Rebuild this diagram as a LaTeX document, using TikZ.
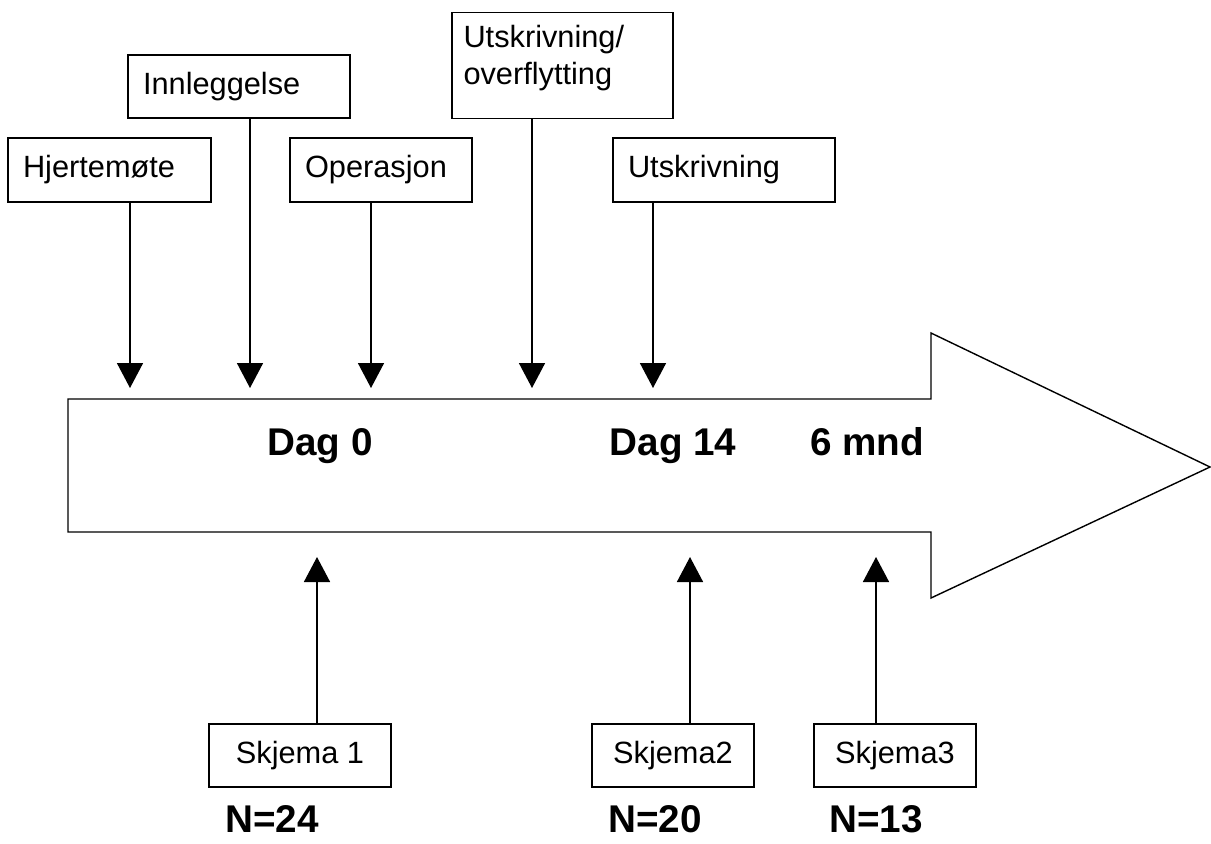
\documentclass[tikz,border=0pt]{standalone}
\usepackage{fontspec}
\setmainfont{Liberation Sans}
\usepackage{tikz}
\usetikzlibrary{arrows.meta,positioning}
\tikzset{
  evbox/.style={draw,line width=.8pt,align=left,inner xsep=.3cm,font=\fontsize{17.5}{21}\selectfont},
  formbox/.style={draw,line width=.8pt,align=center,minimum height=1.26cm,font=\fontsize{17.5}{21}\selectfont},
  evarrow/.style={-{Triangle[length=5mm,width=5.2mm]},line width=.9pt},
  timelabel/.style={anchor=base,inner sep=0pt,font=\fontsize{22}{26}\selectfont\bfseries},
  bigarrow/.style={draw,line width=.8pt}
}
\begin{document}
\begin{tikzpicture}[x=0.02cm,y=-0.02cm]
      \useasboundingbox (0,0) rectangle (1211,843);
      % time line
      \draw[bigarrow] (68,399) -- (931,399) -- (931,333) -- (1210,467)
        -- (931,598) -- (931,532) -- (68,532) -- cycle;
      \node[timelabel] (dag0) at (320,455) {Dag 0};
      \node[timelabel] (dag14) at (673,455) {Dag 14};
      \node[timelabel] (mnd6) at (867,455) {6 mnd};

      % events above
      \node[evbox,minimum width=4.06cm,minimum height=1.28cm,text width=3.46cm] (hjerte) at (109.5,170) {Hjertemøte};
      \node[evbox,minimum width=4.44cm,minimum height=1.26cm,text width=3.84cm] (innl) at (239,86.5) {Innleggelse};
      \node[evbox,minimum width=3.64cm,minimum height=1.28cm,text width=3.04cm] (oper) at (381,170) {Operasjon};
      \node[evbox,minimum width=4.42cm,text width=3.96cm,inner xsep=.23cm,inner ysep=.26cm,text height=.45cm,text depth=1.16cm] (utovr) at (562.5,65.5) {Utskrivning/\\overflytting};
      \node[evbox,minimum width=4.44cm,minimum height=1.28cm,text width=3.84cm] (utskr) at (724,170) {Utskrivning};

      \coordinate (d1) at (130,388);
      \coordinate (d2) at (250,388);
      \coordinate (d3) at (371,388);
      \coordinate (d4) at (532,388);
      \coordinate (d5) at (653,388);
      \foreach \b/\t in {hjerte/d1,innl/d2,oper/d3,utovr/d4,utskr/d5}
        \draw[evarrow] (\b.south -| \t) -- (\t);

      % forms below
      \node[formbox,minimum width=3.64cm] (skj1) at (300,755.5) {Skjema 1};
      \node[formbox,minimum width=3.24cm] (skj2) at (673,755.5) {Skjema2};
      \node[formbox,minimum width=3.24cm] (skj3) at (895,755.5) {Skjema3};

      \coordinate (u1) at (317,557);
      \coordinate (u2) at (690,557);
      \coordinate (u3) at (876,557);
      \foreach \b/\t in {skj1/u1,skj2/u2,skj3/u3}
        \draw[evarrow] (\b.north -| \t) -- (\t);

      \node[timelabel] (n1) at (272,832) {N=24};
      \node[timelabel] (n2) at (655,832) {N=20};
      \node[timelabel] (n3) at (876,832) {N=13};
    \end{tikzpicture}
\end{document}
